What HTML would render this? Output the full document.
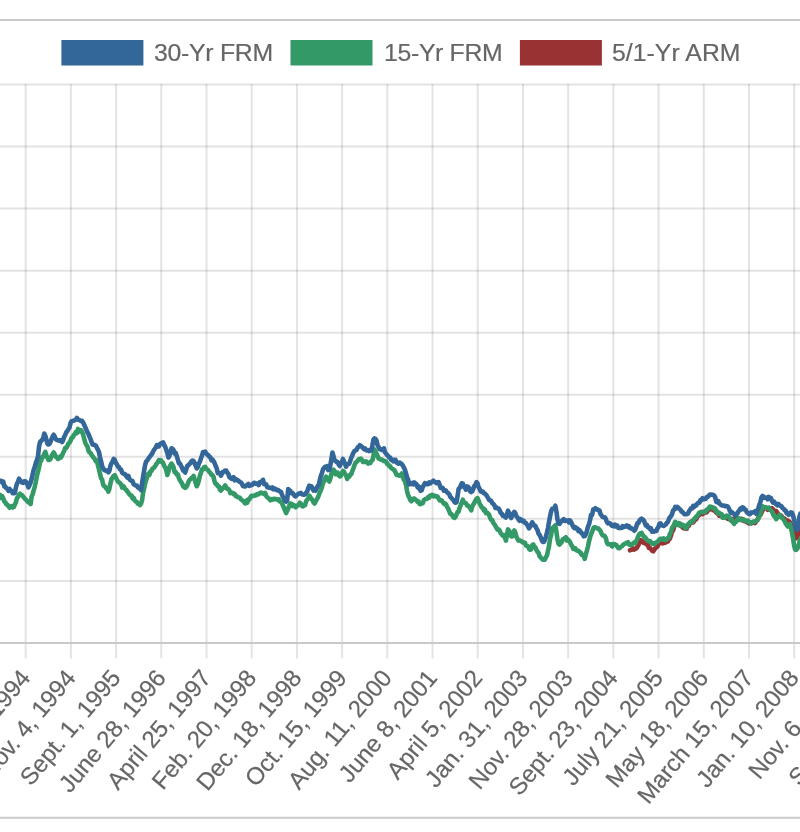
<!DOCTYPE html>
<html><head><meta charset="utf-8"><style>html,body{margin:0;padding:0;background:#fff;width:800px;height:832px;overflow:hidden}svg{display:block;will-change:transform}text{font-family:"Liberation Sans",sans-serif}</style></head>
<body><div id="w"><svg width="800" height="832" viewBox="0 0 800 832" font-family="Liberation Sans, sans-serif"><line x1="0" y1="19.9" x2="800" y2="19.9" stroke="#c9c9c9" stroke-width="2"/><line x1="0" y1="817.8" x2="800" y2="817.8" stroke="#c9c9c9" stroke-width="2"/><line x1="0" y1="84.50" x2="800" y2="84.50" stroke="rgba(0,0,0,0.11)" stroke-width="2"/><line x1="0" y1="146.55" x2="800" y2="146.55" stroke="rgba(0,0,0,0.11)" stroke-width="2"/><line x1="0" y1="208.60" x2="800" y2="208.60" stroke="rgba(0,0,0,0.11)" stroke-width="2"/><line x1="0" y1="270.65" x2="800" y2="270.65" stroke="rgba(0,0,0,0.11)" stroke-width="2"/><line x1="0" y1="332.70" x2="800" y2="332.70" stroke="rgba(0,0,0,0.11)" stroke-width="2"/><line x1="0" y1="394.75" x2="800" y2="394.75" stroke="rgba(0,0,0,0.11)" stroke-width="2"/><line x1="0" y1="456.80" x2="800" y2="456.80" stroke="rgba(0,0,0,0.11)" stroke-width="2"/><line x1="0" y1="518.85" x2="800" y2="518.85" stroke="rgba(0,0,0,0.11)" stroke-width="2"/><line x1="0" y1="580.90" x2="800" y2="580.90" stroke="rgba(0,0,0,0.11)" stroke-width="2"/><line x1="25.66" y1="84.0" x2="25.66" y2="658.5" stroke="rgba(0,0,0,0.11)" stroke-width="2"/><line x1="70.87" y1="84.0" x2="70.87" y2="658.5" stroke="rgba(0,0,0,0.11)" stroke-width="2"/><line x1="116.08" y1="84.0" x2="116.08" y2="658.5" stroke="rgba(0,0,0,0.11)" stroke-width="2"/><line x1="161.28" y1="84.0" x2="161.28" y2="658.5" stroke="rgba(0,0,0,0.11)" stroke-width="2"/><line x1="206.49" y1="84.0" x2="206.49" y2="658.5" stroke="rgba(0,0,0,0.11)" stroke-width="2"/><line x1="251.70" y1="84.0" x2="251.70" y2="658.5" stroke="rgba(0,0,0,0.11)" stroke-width="2"/><line x1="296.91" y1="84.0" x2="296.91" y2="658.5" stroke="rgba(0,0,0,0.11)" stroke-width="2"/><line x1="342.12" y1="84.0" x2="342.12" y2="658.5" stroke="rgba(0,0,0,0.11)" stroke-width="2"/><line x1="387.32" y1="84.0" x2="387.32" y2="658.5" stroke="rgba(0,0,0,0.11)" stroke-width="2"/><line x1="432.53" y1="84.0" x2="432.53" y2="658.5" stroke="rgba(0,0,0,0.11)" stroke-width="2"/><line x1="477.74" y1="84.0" x2="477.74" y2="658.5" stroke="rgba(0,0,0,0.11)" stroke-width="2"/><line x1="522.95" y1="84.0" x2="522.95" y2="658.5" stroke="rgba(0,0,0,0.11)" stroke-width="2"/><line x1="568.16" y1="84.0" x2="568.16" y2="658.5" stroke="rgba(0,0,0,0.11)" stroke-width="2"/><line x1="613.36" y1="84.0" x2="613.36" y2="658.5" stroke="rgba(0,0,0,0.11)" stroke-width="2"/><line x1="658.57" y1="84.0" x2="658.57" y2="658.5" stroke="rgba(0,0,0,0.11)" stroke-width="2"/><line x1="703.78" y1="84.0" x2="703.78" y2="658.5" stroke="rgba(0,0,0,0.11)" stroke-width="2"/><line x1="748.99" y1="84.0" x2="748.99" y2="658.5" stroke="rgba(0,0,0,0.11)" stroke-width="2"/><line x1="794.20" y1="84.0" x2="794.20" y2="658.5" stroke="rgba(0,0,0,0.11)" stroke-width="2"/><line x1="0" y1="642.95" x2="800" y2="642.95" stroke="#c9c9c9" stroke-width="2"/><polyline points="630.00,550.25 631.05,549.59 632.10,549.63 633.15,548.54 634.21,549.52 635.26,548.82 636.31,548.37 637.36,546.84 638.41,545.14 639.46,542.74 640.52,540.05 641.57,540.42 642.62,541.39 643.67,542.96 644.72,542.78 645.77,543.54 646.83,544.57 647.88,544.99 648.93,547.93 649.98,547.87 651.03,549.21 652.08,550.68 653.14,551.30 654.19,549.87 655.24,548.42 656.29,547.35 657.34,546.76 658.39,544.68 659.44,542.72 660.50,541.57 661.55,541.86 662.60,543.38 663.65,541.79 664.70,542.88 665.75,542.56 666.81,540.90 667.86,541.42 668.91,539.31 669.96,538.54 671.01,535.38 672.06,531.60 673.12,530.45 674.17,526.44 675.22,522.65 676.27,523.81 677.32,524.16 678.37,524.31 679.43,525.30 680.48,524.05 681.53,525.96 682.58,527.56 683.63,528.15 684.68,528.53 685.73,528.48 686.79,528.67 687.84,525.77 688.89,525.81 689.94,522.57 690.99,522.72 692.04,521.10 693.10,522.42 694.15,521.39 695.20,519.10 696.25,519.27 697.30,516.42 698.35,515.86 699.41,514.89 700.46,513.31 701.51,513.64 702.56,514.21 703.61,511.87 704.66,512.95 705.72,511.63 706.77,512.24 707.82,510.61 708.87,509.94 709.92,509.08 710.97,507.98 712.02,507.46 713.08,510.08 714.13,508.88 715.18,511.24 716.23,512.74 717.28,512.84 718.33,514.32 719.39,515.82 720.44,515.83 721.49,516.11 722.54,515.59 723.59,517.30 724.64,517.49 725.70,517.46 726.75,517.46 727.80,518.86 728.85,518.65 729.90,519.44 730.95,520.45 732.01,519.07 733.06,519.10 734.11,520.49 735.16,519.42 736.21,517.73 737.26,518.44 738.31,518.90 739.37,519.36 740.42,518.81 741.47,518.86 742.52,519.25 743.57,520.82 744.62,521.22 745.68,521.24 746.73,522.08 747.78,522.52 748.83,523.35 749.88,522.24 750.93,522.94 751.99,523.07 753.04,522.67 754.09,521.61 755.14,523.00 756.19,521.16 757.24,520.24 758.30,517.72 759.35,515.33 760.40,514.88 761.45,512.85 762.50,510.53 763.55,508.71 764.60,507.33 765.66,507.51 766.71,508.16 767.76,509.86 768.81,509.13 769.86,508.18 770.91,508.91 771.97,508.17 773.02,509.11 774.07,510.98 775.12,510.97 776.17,511.12 777.22,512.61 778.28,514.13 779.33,514.92 780.38,516.46 781.43,515.86 782.48,517.64 783.53,518.22 784.59,518.64 785.64,520.16 786.69,520.74 787.74,520.62 788.79,522.80 789.84,522.02 790.89,524.38 791.95,525.92 793.00,527.79 794.05,530.63 795.10,534.75 796.15,538.32 797.20,537.22 798.26,533.51 799.31,531.67 800.36,529.82" fill="none" stroke="#993333" stroke-width="4.6" stroke-linejoin="round" stroke-linecap="round"/><polyline points="-2.00,495.96 -0.95,496.21 0.10,494.81 1.15,497.98 2.21,496.10 3.26,498.43 4.31,501.47 5.36,502.35 6.41,504.31 7.46,504.77 8.52,506.14 9.57,507.71 10.62,506.49 11.67,506.02 12.72,507.53 13.77,507.02 14.83,504.50 15.88,502.41 16.93,498.18 17.98,497.01 19.03,494.70 20.08,493.72 21.14,495.06 22.19,495.24 23.24,496.75 24.29,498.05 25.34,499.18 26.39,500.19 27.44,501.43 28.50,502.39 29.55,502.31 30.60,504.06 31.65,496.59 32.70,494.17 33.75,490.14 34.81,486.63 35.86,481.69 36.91,476.02 37.96,471.88 39.01,467.43 40.06,462.15 41.12,460.81 42.17,456.86 43.22,456.91 44.27,454.10 45.32,451.87 46.37,455.34 47.43,457.75 48.48,459.94 49.53,459.95 50.58,458.75 51.63,455.94 52.68,454.10 53.73,452.47 54.79,454.53 55.84,456.87 56.89,457.29 57.94,458.96 58.99,458.40 60.04,456.60 61.10,457.26 62.15,455.16 63.20,452.60 64.25,450.81 65.30,447.75 66.35,447.81 67.41,445.90 68.46,443.33 69.51,442.60 70.56,440.64 71.61,437.81 72.66,437.45 73.72,435.20 74.77,434.11 75.82,432.16 76.87,432.99 77.92,428.97 78.97,430.08 80.02,431.34 81.08,430.13 82.13,432.12 83.18,434.71 84.23,438.85 85.28,442.65 86.33,444.89 87.39,446.30 88.44,450.33 89.49,452.33 90.54,452.90 91.59,454.87 92.64,456.29 93.70,457.82 94.75,458.97 95.80,461.22 96.85,460.42 97.90,465.04 98.95,469.31 100.01,473.62 101.06,478.27 102.11,479.49 103.16,484.63 104.21,486.19 105.26,486.88 106.31,488.68 107.37,488.86 108.42,491.59 109.47,488.41 110.52,483.22 111.57,478.98 112.62,477.41 113.68,475.92 114.73,475.27 115.78,477.15 116.83,479.49 117.88,481.44 118.93,482.32 119.99,483.25 121.04,484.14 122.09,487.62 123.14,485.86 124.19,487.23 125.24,489.30 126.30,489.82 127.35,491.39 128.40,492.71 129.45,494.32 130.50,495.36 131.55,495.54 132.60,498.42 133.66,497.81 134.71,500.36 135.76,501.50 136.81,502.04 137.86,503.72 138.91,503.70 139.97,505.07 141.02,503.85 142.07,500.06 143.12,492.77 144.17,488.33 145.22,483.08 146.28,479.76 147.33,476.40 148.38,473.57 149.43,474.87 150.48,471.45 151.53,470.97 152.59,468.36 153.64,468.10 154.69,466.74 155.74,465.27 156.79,463.45 157.84,462.11 158.89,460.12 159.95,461.30 161.00,460.46 162.05,462.05 163.10,462.75 164.15,465.83 165.20,467.28 166.26,470.11 167.31,475.04 168.36,471.81 169.41,467.75 170.46,465.21 171.51,463.56 172.57,465.30 173.62,467.58 174.67,472.21 175.72,472.02 176.77,474.62 177.82,474.26 178.88,478.01 179.93,480.40 180.98,481.70 182.03,483.45 183.08,486.15 184.13,487.23 185.18,487.96 186.24,487.06 187.29,485.07 188.34,482.33 189.39,480.13 190.44,479.14 191.49,478.02 192.55,477.63 193.60,475.92 194.65,479.33 195.70,482.94 196.75,486.25 197.80,484.01 198.86,480.47 199.91,475.76 200.96,472.88 202.01,469.36 203.06,469.45 204.11,467.26 205.17,466.89 206.22,468.81 207.27,469.44 208.32,470.45 209.37,472.02 210.42,472.91 211.47,474.77 212.53,475.09 213.58,477.13 214.63,481.76 215.68,483.92 216.73,484.07 217.78,486.14 218.84,486.33 219.89,489.44 220.94,490.56 221.99,489.19 223.04,488.06 224.09,487.13 225.15,485.40 226.20,487.32 227.25,488.82 228.30,488.96 229.35,490.38 230.40,493.15 231.46,492.72 232.51,492.75 233.56,494.08 234.61,493.80 235.66,496.12 236.71,496.12 237.76,497.14 238.82,497.54 239.87,497.71 240.92,499.33 241.97,500.10 243.02,500.81 244.07,501.88 245.13,503.31 246.18,500.82 247.23,502.80 248.28,499.27 249.33,499.36 250.38,497.44 251.44,495.90 252.49,496.21 253.54,495.69 254.59,495.44 255.64,495.59 256.69,494.35 257.75,494.52 258.80,494.09 259.85,492.97 260.90,492.48 261.95,493.23 263.00,493.43 264.05,494.03 265.11,492.86 266.16,495.78 267.21,497.23 268.26,498.09 269.31,499.06 270.36,500.29 271.42,499.16 272.47,499.70 273.52,498.77 274.57,498.90 275.62,499.29 276.67,499.04 277.73,499.87 278.78,499.38 279.83,501.32 280.88,501.83 281.93,503.09 282.98,505.66 284.04,507.84 285.09,510.58 286.14,513.06 287.19,510.68 288.24,508.51 289.29,505.58 290.34,503.35 291.40,503.64 292.45,506.00 293.50,504.93 294.55,505.63 295.60,507.24 296.65,506.26 297.71,505.37 298.76,504.70 299.81,502.74 300.86,503.51 301.91,505.89 302.96,506.45 304.02,505.27 305.07,505.27 306.12,501.31 307.17,499.80 308.22,498.54 309.27,495.64 310.33,497.15 311.38,498.78 312.43,500.03 313.48,502.32 314.53,503.54 315.58,501.67 316.63,499.59 317.69,497.83 318.74,495.29 319.79,492.42 320.84,490.27 321.89,487.40 322.94,483.23 324.00,481.43 325.05,478.17 326.10,476.60 327.15,479.28 328.20,480.01 329.25,481.57 330.31,478.66 331.36,474.13 332.41,470.60 333.46,469.62 334.51,471.08 335.56,474.26 336.62,472.94 337.67,472.58 338.72,475.39 339.77,476.40 340.82,475.85 341.87,473.23 342.92,470.92 343.98,471.62 345.03,474.05 346.08,475.21 347.13,479.01 348.18,477.11 349.23,476.84 350.29,474.60 351.34,474.07 352.39,470.85 353.44,468.32 354.49,465.09 355.54,462.78 356.60,461.80 357.65,460.88 358.70,459.42 359.75,458.94 360.80,458.60 361.85,459.80 362.91,461.88 363.96,461.35 365.01,461.94 366.06,461.41 367.11,462.12 368.16,463.50 369.21,462.56 370.27,463.01 371.32,460.90 372.37,460.31 373.42,456.40 374.47,449.44 375.52,451.27 376.58,454.09 377.63,456.16 378.68,458.76 379.73,458.71 380.78,459.63 381.83,459.54 382.89,460.46 383.94,461.22 384.99,461.08 386.04,461.47 387.09,463.74 388.14,464.28 389.20,466.25 390.25,466.39 391.30,468.13 392.35,468.84 393.40,469.52 394.45,470.39 395.50,472.34 396.56,474.83 397.61,474.86 398.66,475.40 399.71,475.73 400.76,474.91 401.81,473.54 402.87,476.75 403.92,479.94 404.97,480.96 406.02,485.06 407.07,490.92 408.12,495.29 409.18,497.21 410.23,499.81 411.28,501.20 412.33,500.09 413.38,498.82 414.43,498.53 415.49,499.65 416.54,500.37 417.59,501.92 418.64,501.59 419.69,504.17 420.74,504.08 421.79,503.48 422.85,503.10 423.90,499.84 424.95,499.48 426.00,498.74 427.05,498.93 428.10,497.17 429.16,497.67 430.21,495.52 431.26,495.37 432.31,494.77 433.36,496.34 434.41,495.61 435.47,496.42 436.52,496.17 437.57,496.81 438.62,498.46 439.67,500.44 440.72,500.01 441.78,500.57 442.83,502.22 443.88,503.77 444.93,503.27 445.98,504.42 447.03,506.70 448.08,508.44 449.14,510.97 450.19,513.57 451.24,514.06 452.29,515.32 453.34,517.21 454.39,517.95 455.45,517.04 456.50,514.55 457.55,512.02 458.60,511.69 459.65,507.56 460.70,505.19 461.76,502.49 462.81,499.75 463.86,502.25 464.91,502.82 465.96,503.15 467.01,505.42 468.07,505.61 469.12,506.91 470.17,508.18 471.22,510.33 472.27,506.36 473.32,504.49 474.37,502.76 475.43,500.53 476.48,498.64 477.53,498.06 478.58,500.60 479.63,503.60 480.68,505.37 481.74,507.44 482.79,507.90 483.84,510.43 484.89,509.46 485.94,513.04 486.99,512.53 488.05,513.44 489.10,514.75 490.15,517.88 491.20,519.80 492.25,520.24 493.30,522.82 494.36,524.24 495.41,525.92 496.46,527.88 497.51,529.72 498.56,529.24 499.61,530.43 500.66,533.31 501.72,534.17 502.77,535.75 503.82,535.16 504.87,537.24 505.92,540.59 506.97,534.68 508.03,529.45 509.08,530.91 510.13,534.10 511.18,536.34 512.23,536.38 513.28,532.13 514.34,530.54 515.39,532.95 516.44,536.90 517.49,538.77 518.54,540.60 519.59,540.41 520.65,540.89 521.70,541.37 522.75,542.58 523.80,542.72 524.85,542.57 525.90,545.46 526.95,545.77 528.01,546.36 529.06,548.84 530.11,549.67 531.16,549.46 532.21,545.40 533.26,544.36 534.32,547.03 535.37,547.29 536.42,550.05 537.47,551.69 538.52,552.81 539.57,556.16 540.63,557.36 541.68,558.65 542.73,559.78 543.78,559.80 544.83,559.67 545.88,557.25 546.94,555.43 547.99,550.80 549.04,545.82 550.09,538.61 551.14,535.06 552.19,528.16 553.24,528.58 554.30,526.35 555.35,525.29 556.40,531.73 557.45,539.39 558.50,543.79 559.55,544.65 560.61,543.08 561.66,542.31 562.71,539.38 563.76,539.45 564.81,538.07 565.86,537.27 566.92,540.66 567.97,539.54 569.02,540.74 570.07,542.14 571.12,544.60 572.17,546.02 573.23,548.95 574.28,549.01 575.33,548.38 576.38,550.29 577.43,550.80 578.48,550.79 579.53,551.92 580.59,552.53 581.64,554.94 582.69,554.72 583.74,555.93 584.79,558.85 585.84,553.92 586.90,550.77 587.95,546.49 589.00,541.41 590.05,537.44 591.10,533.90 592.15,531.95 593.21,528.28 594.26,527.19 595.31,527.19 596.36,528.03 597.41,528.40 598.46,528.52 599.52,529.91 600.57,531.00 601.62,533.99 602.67,535.39 603.72,535.55 604.77,536.23 605.82,538.11 606.88,542.50 607.93,544.16 608.98,543.95 610.03,544.68 611.08,544.57 612.13,546.45 613.19,544.04 614.24,544.37 615.29,544.39 616.34,544.98 617.39,546.94 618.44,548.12 619.50,548.18 620.55,547.13 621.60,546.44 622.65,545.49 623.70,544.26 624.75,543.78 625.81,543.33 626.86,542.74 627.91,542.15 628.96,544.50 630.01,544.72 631.06,545.33 632.11,544.01 633.17,543.60 634.22,542.37 635.27,543.03 636.32,541.02 637.37,538.43 638.42,535.81 639.48,533.86 640.53,533.35 641.58,532.94 642.63,534.84 643.68,536.28 644.73,536.96 645.79,538.26 646.84,539.82 647.89,540.71 648.94,541.32 649.99,540.97 651.04,542.30 652.10,543.61 653.15,543.39 654.20,544.22 655.25,543.25 656.30,542.45 657.35,541.85 658.40,540.68 659.46,539.38 660.51,538.77 661.56,538.85 662.61,539.68 663.66,538.34 664.71,539.95 665.77,539.89 666.82,539.34 667.87,537.92 668.92,537.76 669.97,533.70 671.02,532.01 672.08,527.74 673.13,526.54 674.18,524.24 675.23,521.92 676.28,523.44 677.33,524.94 678.39,523.02 679.44,523.37 680.49,525.56 681.54,525.07 682.59,524.87 683.64,525.25 684.69,527.71 685.75,528.06 686.80,527.66 687.85,524.63 688.90,523.78 689.95,522.34 691.00,521.68 692.06,521.87 693.11,521.02 694.16,519.01 695.21,517.99 696.26,516.49 697.31,515.87 698.37,514.16 699.42,512.63 700.47,512.30 701.52,511.80 702.57,512.20 703.62,512.18 704.68,511.91 705.73,510.99 706.78,509.71 707.83,509.43 708.88,507.83 709.93,506.48 710.98,506.68 712.04,507.37 713.09,508.32 714.14,507.92 715.19,508.62 716.24,511.37 717.29,511.58 718.35,513.76 719.40,512.99 720.45,514.05 721.50,513.97 722.55,517.71 723.60,516.99 724.66,517.78 725.71,516.41 726.76,515.56 727.81,515.98 728.86,516.88 729.91,518.20 730.97,520.44 732.02,519.80 733.07,522.57 734.12,523.93 735.17,521.46 736.22,521.73 737.27,519.74 738.33,518.27 739.38,518.87 740.43,519.96 741.48,520.24 742.53,519.58 743.58,519.36 744.64,520.19 745.69,520.60 746.74,521.26 747.79,520.62 748.84,522.22 749.89,522.16 750.95,523.63 752.00,522.43 753.05,521.72 754.10,521.73 755.15,521.77 756.20,520.91 757.26,519.81 758.31,518.71 759.36,516.43 760.41,513.74 761.46,509.75 762.51,506.24 763.56,506.87 764.62,507.26 765.67,507.79 766.72,507.47 767.77,508.30 768.82,507.64 769.87,509.26 770.93,510.38 771.98,511.39 773.03,514.09 774.08,516.07 775.13,516.58 776.18,519.16 777.24,517.52 778.29,517.02 779.34,514.95 780.39,515.72 781.44,517.42 782.49,518.00 783.55,519.58 784.60,521.00 785.65,523.38 786.70,524.92 787.75,526.46 788.80,525.54 789.85,524.17 790.91,527.69 791.96,532.50 793.01,538.11 794.06,545.16 795.11,549.49 796.16,549.84 797.22,548.75 798.27,546.98 799.32,542.72 800.37,539.14" fill="none" stroke="#339966" stroke-width="4.6" stroke-linejoin="round" stroke-linecap="round"/><polyline points="-2.00,482.39 -0.95,480.82 0.10,480.91 1.15,480.80 2.21,482.43 3.26,481.66 4.31,486.39 5.36,486.54 6.41,488.37 7.46,488.81 8.52,490.84 9.57,488.88 10.62,490.52 11.67,490.89 12.72,493.28 13.77,493.29 14.83,492.96 15.88,487.74 16.93,483.72 17.98,482.00 19.03,478.72 20.08,480.38 21.14,481.48 22.19,482.47 23.24,482.83 24.29,481.30 25.34,481.27 26.39,482.17 27.44,484.72 28.50,487.37 29.55,485.02 30.60,482.60 31.65,478.96 32.70,474.12 33.75,469.52 34.81,466.82 35.86,462.90 36.91,459.99 37.96,456.73 39.01,446.75 40.06,442.03 41.12,441.02 42.17,439.86 43.22,438.14 44.27,433.56 45.32,435.66 46.37,439.67 47.43,443.78 48.48,444.53 49.53,443.88 50.58,441.55 51.63,438.99 52.68,436.33 53.73,434.79 54.79,436.68 55.84,439.09 56.89,440.11 57.94,440.37 58.99,440.12 60.04,440.88 61.10,440.16 62.15,441.98 63.20,439.86 64.25,436.66 65.30,434.73 66.35,432.22 67.41,430.94 68.46,429.11 69.51,427.48 70.56,422.89 71.61,421.19 72.66,420.98 73.72,420.57 74.77,420.21 75.82,419.62 76.87,417.98 77.92,419.19 78.97,420.09 80.02,420.19 81.08,421.08 82.13,420.91 83.18,422.47 84.23,424.84 85.28,427.24 86.33,429.72 87.39,432.30 88.44,433.91 89.49,436.74 90.54,438.94 91.59,442.27 92.64,444.69 93.70,444.68 94.75,444.99 95.80,445.50 96.85,447.75 97.90,449.61 98.95,451.97 100.01,457.22 101.06,461.16 102.11,465.77 103.16,468.47 104.21,470.16 105.26,470.11 106.31,470.98 107.37,470.64 108.42,472.36 109.47,470.50 110.52,465.63 111.57,463.05 112.62,461.59 113.68,458.94 114.73,459.79 115.78,462.79 116.83,464.23 117.88,466.64 118.93,466.97 119.99,469.35 121.04,469.47 122.09,472.61 123.14,473.33 124.19,474.03 125.24,474.20 126.30,476.34 127.35,477.52 128.40,475.85 129.45,479.07 130.50,480.39 131.55,480.69 132.60,481.18 133.66,484.20 134.71,485.04 135.76,485.56 136.81,485.66 137.86,487.44 138.91,488.22 139.97,488.28 141.02,490.13 142.07,483.11 143.12,476.70 144.17,470.38 145.22,464.44 146.28,461.36 147.33,460.37 148.38,458.61 149.43,457.19 150.48,455.86 151.53,454.49 152.59,452.78 153.64,450.43 154.69,449.00 155.74,447.45 156.79,445.12 157.84,446.63 158.89,446.39 159.95,444.11 161.00,443.28 162.05,442.83 163.10,442.42 164.15,445.02 165.20,446.73 166.26,449.66 167.31,453.00 168.36,457.56 169.41,456.06 170.46,452.65 171.51,448.23 172.57,448.79 173.62,450.15 174.67,453.44 175.72,452.85 176.77,456.18 177.82,459.72 178.88,463.27 179.93,463.43 180.98,465.74 182.03,467.65 183.08,470.55 184.13,471.00 185.18,472.51 186.24,469.19 187.29,465.89 188.34,465.35 189.39,464.08 190.44,463.23 191.49,461.11 192.55,460.48 193.60,461.03 194.65,463.10 195.70,465.84 196.75,468.32 197.80,467.01 198.86,463.49 199.91,461.60 200.96,458.38 202.01,455.44 203.06,452.05 204.11,452.56 205.17,451.74 206.22,453.29 207.27,454.73 208.32,454.97 209.37,457.05 210.42,457.30 211.47,460.28 212.53,459.60 213.58,461.20 214.63,463.18 215.68,466.02 216.73,468.41 217.78,473.11 218.84,472.86 219.89,472.98 220.94,475.53 221.99,473.60 223.04,471.74 224.09,471.82 225.15,470.55 226.20,470.61 227.25,472.69 228.30,473.78 229.35,477.18 230.40,477.92 231.46,478.82 232.51,477.98 233.56,477.22 234.61,480.39 235.66,478.99 236.71,479.94 237.76,480.24 238.82,481.12 239.87,481.97 240.92,482.47 241.97,483.92 243.02,486.12 244.07,486.18 245.13,486.51 246.18,485.49 247.23,484.80 248.28,483.95 249.33,485.87 250.38,485.11 251.44,485.26 252.49,484.77 253.54,483.10 254.59,482.77 255.64,483.68 256.69,483.83 257.75,483.27 258.80,484.99 259.85,482.10 260.90,482.08 261.95,481.45 263.00,479.80 264.05,484.16 265.11,484.11 266.16,484.18 267.21,487.23 268.26,487.07 269.31,487.83 270.36,487.74 271.42,488.42 272.47,487.46 273.52,489.27 274.57,488.63 275.62,489.17 276.67,490.10 277.73,489.79 278.78,490.64 279.83,491.52 280.88,491.68 281.93,494.45 282.98,497.05 284.04,498.60 285.09,500.79 286.14,501.63 287.19,499.82 288.24,489.06 289.29,491.46 290.34,490.94 291.40,493.13 292.45,492.80 293.50,494.24 294.55,495.81 295.60,496.46 296.65,495.11 297.71,494.46 298.76,493.57 299.81,493.40 300.86,492.96 301.91,494.25 302.96,494.53 304.02,494.75 305.07,494.30 306.12,492.64 307.17,491.63 308.22,488.33 309.27,485.67 310.33,486.47 311.38,486.31 312.43,488.44 313.48,490.54 314.53,489.13 315.58,490.65 316.63,488.17 317.69,486.09 318.74,484.91 319.79,480.12 320.84,475.94 321.89,473.51 322.94,469.50 324.00,468.10 325.05,466.73 326.10,466.69 327.15,466.22 328.20,470.08 329.25,469.80 330.31,465.26 331.36,459.32 332.41,452.54 333.46,455.99 334.51,460.57 335.56,460.76 336.62,462.16 337.67,462.13 338.72,464.45 339.77,465.98 340.82,463.29 341.87,462.30 342.92,458.97 343.98,461.65 345.03,463.65 346.08,466.63 347.13,464.53 348.18,463.93 349.23,463.80 350.29,460.83 351.34,457.50 352.39,455.22 353.44,452.64 354.49,451.04 355.54,450.37 356.60,449.89 357.65,447.45 358.70,446.75 359.75,445.22 360.80,445.81 361.85,446.74 362.91,447.78 363.96,449.14 365.01,448.35 366.06,450.23 367.11,450.51 368.16,450.08 369.21,451.14 370.27,450.43 371.32,450.52 372.37,445.47 373.42,439.70 374.47,438.34 375.52,438.98 376.58,440.75 377.63,445.48 378.68,447.14 379.73,449.24 380.78,449.09 381.83,450.03 382.89,450.14 383.94,448.33 384.99,452.26 386.04,453.65 387.09,455.01 388.14,455.81 389.20,457.62 390.25,457.62 391.30,460.06 392.35,459.69 393.40,461.31 394.45,459.78 395.50,459.79 396.56,462.41 397.61,463.39 398.66,463.70 399.71,462.67 400.76,463.44 401.81,464.18 402.87,465.57 403.92,467.74 404.97,469.82 406.02,473.38 407.07,477.56 408.12,479.56 409.18,484.43 410.23,483.42 411.28,484.08 412.33,483.03 413.38,484.31 414.43,482.44 415.49,484.39 416.54,484.16 417.59,487.27 418.64,486.48 419.69,489.06 420.74,490.87 421.79,490.13 422.85,486.68 423.90,485.01 424.95,483.10 426.00,483.67 427.05,484.22 428.10,484.12 429.16,482.45 430.21,483.38 431.26,482.49 432.31,481.73 433.36,480.60 434.41,481.57 435.47,482.33 436.52,483.15 437.57,482.22 438.62,482.11 439.67,484.98 440.72,487.84 441.78,487.59 442.83,488.03 443.88,490.69 444.93,489.99 445.98,490.65 447.03,492.28 448.08,493.10 449.14,493.96 450.19,496.51 451.24,497.85 452.29,499.06 453.34,499.80 454.39,502.08 455.45,502.64 456.50,502.47 457.55,496.03 458.60,489.04 459.65,487.85 460.70,485.86 461.76,483.32 462.81,483.45 463.86,486.96 464.91,487.54 465.96,489.79 467.01,486.35 468.07,486.83 469.12,487.96 470.17,491.36 471.22,492.07 472.27,491.24 473.32,488.83 474.37,485.74 475.43,484.92 476.48,482.10 477.53,483.25 478.58,487.10 479.63,488.92 480.68,491.50 481.74,491.84 482.79,491.55 483.84,493.14 484.89,493.62 485.94,494.64 486.99,496.11 488.05,497.85 489.10,499.99 490.15,500.58 491.20,500.84 492.25,503.13 493.30,503.90 494.36,505.25 495.41,507.96 496.46,507.42 497.51,508.42 498.56,508.45 499.61,510.17 500.66,512.87 501.72,513.47 502.77,515.63 503.82,515.54 504.87,516.83 505.92,517.53 506.97,514.67 508.03,510.65 509.08,513.17 510.13,516.02 511.18,518.06 512.23,514.91 513.28,513.39 514.34,511.82 515.39,513.29 516.44,516.39 517.49,517.45 518.54,519.55 519.59,520.79 520.65,519.16 521.70,520.25 522.75,521.40 523.80,520.91 524.85,522.86 525.90,522.96 526.95,524.66 528.01,526.36 529.06,528.34 530.11,526.58 531.16,524.41 532.21,522.33 533.26,523.99 534.32,525.63 535.37,526.00 536.42,528.43 537.47,529.95 538.52,533.70 539.57,534.88 540.63,536.96 541.68,540.03 542.73,541.88 543.78,541.93 544.83,540.07 545.88,536.60 546.94,532.57 547.99,527.93 549.04,521.73 550.09,516.30 551.14,511.46 552.19,508.83 553.24,508.86 554.30,508.57 555.35,505.67 556.40,511.32 557.45,519.40 558.50,523.53 559.55,523.87 560.61,522.05 561.66,521.05 562.71,519.93 563.76,519.19 564.81,520.96 565.86,520.67 566.92,520.72 567.97,520.40 569.02,522.46 570.07,520.53 571.12,522.21 572.17,524.52 573.23,526.89 574.28,528.12 575.33,527.19 576.38,528.66 577.43,528.52 578.48,531.07 579.53,530.12 580.59,531.84 581.64,533.45 582.69,533.76 583.74,536.35 584.79,536.11 585.84,534.30 586.90,530.96 587.95,526.74 589.00,524.31 590.05,520.20 591.10,514.81 592.15,514.87 593.21,509.48 594.26,509.23 595.31,508.30 596.36,509.48 597.41,509.30 598.46,510.27 599.52,510.55 600.57,514.21 601.62,515.65 602.67,516.92 603.72,517.25 604.77,517.30 605.82,519.02 606.88,522.02 607.93,523.33 608.98,523.05 610.03,523.41 611.08,524.84 612.13,525.81 613.19,524.98 614.24,526.22 615.29,524.75 616.34,526.44 617.39,525.63 618.44,528.03 619.50,528.04 620.55,527.91 621.60,528.05 622.65,526.25 623.70,527.11 624.75,526.42 625.81,526.51 626.86,525.36 627.91,526.91 628.96,526.08 630.01,528.06 631.06,527.93 632.11,529.07 633.17,529.25 634.22,530.74 635.27,529.44 636.32,526.66 637.37,523.28 638.42,523.01 639.48,520.55 640.53,519.35 641.58,518.60 642.63,519.34 643.68,520.19 644.73,522.67 645.79,525.39 646.84,524.85 647.89,527.21 648.94,527.26 649.99,529.02 651.04,528.52 652.10,531.66 653.15,531.11 654.20,531.58 655.25,530.91 656.30,531.06 657.35,528.51 658.40,527.18 659.46,523.69 660.51,523.33 661.56,525.30 662.61,525.46 663.66,526.03 664.71,525.16 665.77,524.59 666.82,522.77 667.87,522.12 668.92,519.02 669.97,517.27 671.02,516.14 672.08,514.10 673.13,510.48 674.18,509.73 675.23,506.85 676.28,508.44 677.33,506.95 678.39,507.85 679.44,508.85 680.49,509.79 681.54,511.61 682.59,511.97 683.64,513.50 684.69,514.29 685.75,514.30 686.80,514.08 687.85,513.62 688.90,511.49 689.95,509.95 691.00,508.40 692.06,508.55 693.11,505.97 694.16,506.77 695.21,505.35 696.26,505.47 697.31,503.60 698.37,502.65 699.42,502.78 700.47,500.05 701.52,500.12 702.57,498.17 703.62,499.16 704.68,498.99 705.73,498.90 706.78,496.95 707.83,496.76 708.88,495.73 709.93,494.45 710.98,494.51 712.04,494.72 713.09,494.68 714.14,495.55 715.19,497.28 716.24,501.74 717.29,502.39 718.35,501.12 719.40,503.46 720.45,504.49 721.50,505.28 722.55,505.55 723.60,505.50 724.66,506.12 725.71,505.91 726.76,506.34 727.81,506.58 728.86,508.43 729.91,510.99 730.97,512.89 732.02,512.18 733.07,513.39 734.12,513.86 735.17,515.69 736.22,513.74 737.27,513.74 738.33,511.34 739.38,510.64 740.43,508.63 741.48,509.43 742.53,507.29 743.58,507.77 744.64,509.67 745.69,509.71 746.74,512.13 747.79,513.07 748.84,513.91 749.89,514.23 750.95,512.46 752.00,512.71 753.05,512.29 754.10,512.28 755.15,511.29 756.20,513.75 757.26,510.50 758.31,508.51 759.36,504.56 760.41,502.09 761.46,497.58 762.51,496.00 763.56,496.53 764.62,498.00 765.67,498.02 766.72,497.60 767.77,499.33 768.82,496.99 769.87,497.55 770.93,498.04 771.98,501.16 773.03,502.48 774.08,501.62 775.13,503.09 776.18,504.42 777.24,505.42 778.29,503.96 779.34,504.96 780.39,505.82 781.44,506.25 782.49,507.98 783.55,508.64 784.60,510.13 785.65,510.67 786.70,513.33 787.75,513.09 788.80,514.83 789.85,513.32 790.91,512.25 791.96,512.69 793.01,515.34 794.06,519.55 795.11,524.28 796.16,529.42 797.22,529.77 798.27,525.37 799.32,517.11 800.37,513.69" fill="none" stroke="#336699" stroke-width="4.6" stroke-linejoin="round" stroke-linecap="round"/><rect x="61.4" y="40" width="82" height="25.5" fill="#336699"/><text x="153.9" y="60.8" font-size="24.8" letter-spacing="-0.25" fill="#666" stroke="#666" stroke-width="0.2">30-Yr FRM</text><rect x="290.5" y="40" width="82" height="25.5" fill="#339966"/><text x="384" y="60.8" font-size="24.8" letter-spacing="-0.32" fill="#666" stroke="#666" stroke-width="0.2">15-Yr FRM</text><rect x="519.9" y="40" width="82" height="25.5" fill="#993333"/><text x="611.9" y="60.8" font-size="24.8" letter-spacing="0.05" fill="#666" stroke="#666" stroke-width="0.2">5/1-Yr ARM</text><text x="0" y="0" transform="translate(17.96,667.2) rotate(-50)" text-anchor="end" dominant-baseline="hanging" font-size="24" letter-spacing="-0.1" fill="#666" stroke="#666" stroke-width="0.2">Jan. 7, 1994</text><text x="0" y="0" transform="translate(63.17,667.2) rotate(-50)" text-anchor="end" dominant-baseline="hanging" font-size="24" letter-spacing="-0.1" fill="#666" stroke="#666" stroke-width="0.2">Nov. 4, 1994</text><text x="0" y="0" transform="translate(108.38,667.2) rotate(-50)" text-anchor="end" dominant-baseline="hanging" font-size="24" letter-spacing="-0.1" fill="#666" stroke="#666" stroke-width="0.2">Sept. 1, 1995</text><text x="0" y="0" transform="translate(153.58,667.2) rotate(-50)" text-anchor="end" dominant-baseline="hanging" font-size="24" letter-spacing="-0.1" fill="#666" stroke="#666" stroke-width="0.2">June 28, 1996</text><text x="0" y="0" transform="translate(198.79,667.2) rotate(-50)" text-anchor="end" dominant-baseline="hanging" font-size="24" letter-spacing="-0.1" fill="#666" stroke="#666" stroke-width="0.2">April 25, 1997</text><text x="0" y="0" transform="translate(244.00,667.2) rotate(-50)" text-anchor="end" dominant-baseline="hanging" font-size="24" letter-spacing="-0.1" fill="#666" stroke="#666" stroke-width="0.2">Feb. 20, 1998</text><text x="0" y="0" transform="translate(289.21,667.2) rotate(-50)" text-anchor="end" dominant-baseline="hanging" font-size="24" letter-spacing="-0.1" fill="#666" stroke="#666" stroke-width="0.2">Dec. 18, 1998</text><text x="0" y="0" transform="translate(334.42,667.2) rotate(-50)" text-anchor="end" dominant-baseline="hanging" font-size="24" letter-spacing="-0.1" fill="#666" stroke="#666" stroke-width="0.2">Oct. 15, 1999</text><text x="0" y="0" transform="translate(379.62,667.2) rotate(-50)" text-anchor="end" dominant-baseline="hanging" font-size="24" letter-spacing="-0.1" fill="#666" stroke="#666" stroke-width="0.2">Aug. 11, 2000</text><text x="0" y="0" transform="translate(424.83,667.2) rotate(-50)" text-anchor="end" dominant-baseline="hanging" font-size="24" letter-spacing="-0.1" fill="#666" stroke="#666" stroke-width="0.2">June 8, 2001</text><text x="0" y="0" transform="translate(470.04,667.2) rotate(-50)" text-anchor="end" dominant-baseline="hanging" font-size="24" letter-spacing="-0.1" fill="#666" stroke="#666" stroke-width="0.2">April 5, 2002</text><text x="0" y="0" transform="translate(515.25,667.2) rotate(-50)" text-anchor="end" dominant-baseline="hanging" font-size="24" letter-spacing="-0.1" fill="#666" stroke="#666" stroke-width="0.2">Jan. 31, 2003</text><text x="0" y="0" transform="translate(560.46,667.2) rotate(-50)" text-anchor="end" dominant-baseline="hanging" font-size="24" letter-spacing="-0.1" fill="#666" stroke="#666" stroke-width="0.2">Nov. 28, 2003</text><text x="0" y="0" transform="translate(605.66,667.2) rotate(-50)" text-anchor="end" dominant-baseline="hanging" font-size="24" letter-spacing="-0.1" fill="#666" stroke="#666" stroke-width="0.2">Sept. 23, 2004</text><text x="0" y="0" transform="translate(650.87,667.2) rotate(-50)" text-anchor="end" dominant-baseline="hanging" font-size="24" letter-spacing="-0.1" fill="#666" stroke="#666" stroke-width="0.2">July 21, 2005</text><text x="0" y="0" transform="translate(696.08,667.2) rotate(-50)" text-anchor="end" dominant-baseline="hanging" font-size="24" letter-spacing="-0.1" fill="#666" stroke="#666" stroke-width="0.2">May 18, 2006</text><text x="0" y="0" transform="translate(741.29,667.2) rotate(-50)" text-anchor="end" dominant-baseline="hanging" font-size="24" letter-spacing="-0.1" fill="#666" stroke="#666" stroke-width="0.2">March 15, 2007</text><text x="0" y="0" transform="translate(786.50,667.2) rotate(-50)" text-anchor="end" dominant-baseline="hanging" font-size="24" letter-spacing="-0.1" fill="#666" stroke="#666" stroke-width="0.2">Jan. 10, 2008</text><text x="0" y="0" transform="translate(831.70,667.2) rotate(-50)" text-anchor="end" dominant-baseline="hanging" font-size="24" letter-spacing="-0.1" fill="#666" stroke="#666" stroke-width="0.2">Nov. 6, 2008</text><text x="0" y="0" transform="translate(876.91,667.2) rotate(-50)" text-anchor="end" dominant-baseline="hanging" font-size="24" letter-spacing="-0.1" fill="#666" stroke="#666" stroke-width="0.2">Sept. 3, 2009</text></svg></div></body></html>
